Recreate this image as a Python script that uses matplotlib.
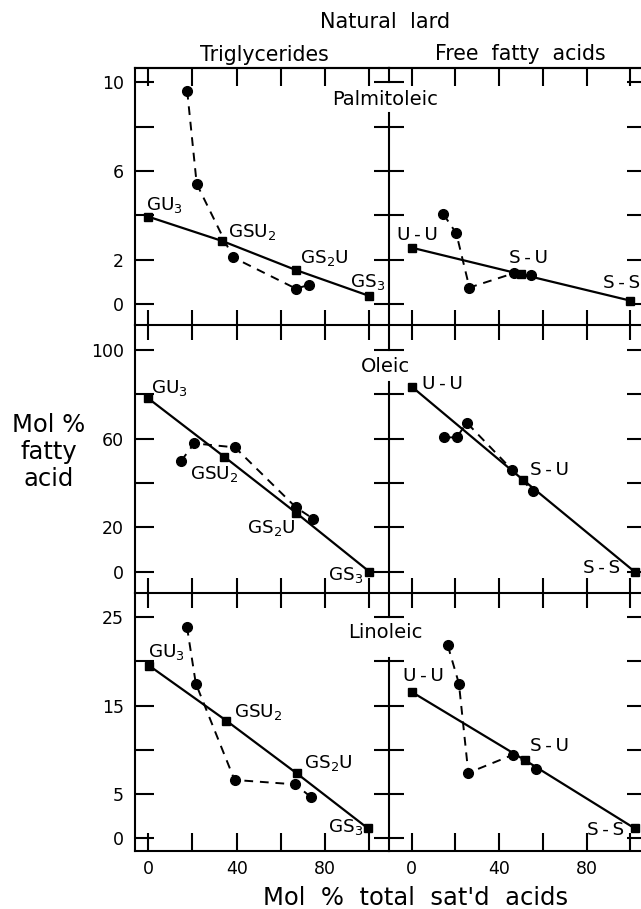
import matplotlib
matplotlib.use('Agg')
import matplotlib.pyplot as plt

plt.rcParams['font.family'] = 'DejaVu Sans'

# ---- data (mol % fatty acid vs mol % total sat'd acids) ----
# Palmitoleic
palm_tg_calc_x = [0, 33.5, 66.8, 100]
palm_tg_calc_y = [3.94, 2.84, 1.53, 0.36]
palm_tg_obs_x = [17.6, 21.9, 38.2, 66.8, 72.6]
palm_tg_obs_y = [9.62, 5.42, 2.11, 0.69, 0.86]
palm_ffa_calc_x = [0, 50, 100]
palm_ffa_calc_y = [2.54, 1.34, 0.15]
palm_ffa_obs_x = [14.5, 20.4, 26.4, 46.8, 54.6]
palm_ffa_obs_y = [4.05, 3.19, 0.74, 1.39, 1.31]

# Oleic
ole_tg_calc_x = [0, 34.3, 66.8, 100]
ole_tg_calc_y = [78.2, 51.9, 26.6, 0]
ole_tg_obs_x = [14.8, 20.8, 39.2, 66.8, 74.7]
ole_tg_obs_y = [49.9, 57.9, 56.1, 29.0, 23.8]
ole_ffa_calc_x = [0, 51, 102]
ole_ffa_calc_y = [83.5, 41.4, 0]
ole_ffa_obs_x = [14.9, 20.6, 25.2, 46.0, 55.4]
ole_ffa_obs_y = [60.6, 60.6, 67.2, 45.9, 36.5]

# Linoleic
lin_tg_calc_x = [0.5, 35.3, 67.1, 99.3]
lin_tg_calc_y = [19.5, 13.3, 7.35, 1.13]
lin_tg_obs_x = [17.5, 21.5, 39.0, 66.4, 73.4]
lin_tg_obs_y = [23.9, 17.5, 6.6, 6.1, 4.7]
lin_ffa_calc_x = [0, 51.9, 102]
lin_ffa_calc_y = [16.55, 8.82, 1.13]
lin_ffa_obs_x = [16.5, 21.6, 25.9, 46.5, 56.7]
lin_ffa_obs_y = [21.8, 17.5, 7.4, 9.46, 7.87]

acids = ['Palmitoleic', 'Oleic', 'Linoleic']
tg_names = ['GU$_3$', 'GSU$_2$', 'GS$_2$U', 'GS$_3$']
ffa_names = ['U\u2009-\u2009U', 'S\u2009-\u2009U', 'S\u2009-\u2009S']

y_ticks = [[0, 2, 4, 6, 8, 10], [0, 20, 40, 60, 80, 100], [0, 5, 10, 15, 20, 25]]
y_labels = [['0', '2', '', '6', '', '10'],
            ['0', '20', '', '60', '', '100'],
            ['0', '5', '', '15', '', '25']]
x_ticks = [0, 20, 40, 60, 80, 100]
x_labels = ['0', '', '40', '', '80', '']

# ---- layout (pixels of the 641x909 canvas) ----
W, H = 641, 909
col_px = [(135, 389.3), (389.3, 646)]
row_px = [(68, 325), (325, 593.3), (593.3, 850.7)]
xlims = [(-6.0, 109.0), (-10.25, 107.2)]
ylims = [(-0.95, 10.65), (-9.74, 111.3), (-1.40, 27.7)]
gaps = [(8.6, 10), (85.7, 100), (20.4, 25)]  # break in the middle divider

# label positions (data coords, left/centre anchored)
tg_pos = [[(-1.0, 4.47), (35.9, 3.26), (68.6, 2.08), (91.3, 1.0)],
          [(1.1, 82.7), (18.9, 44.1), (44.5, 19.6), (81.2, -1.5)],
          [(0, 21.1), (38.7, 14.3), (70.3, 8.5), (81.2, 1.3)]]
ffa_pos = [[(-6.9, 3.12), (44.5, 2.08), (87.4, 0.93)],
           [(4.6, 84.7), (54.1, 45.9), (78.3, 1.5)],
           [(-4.0, 18.3), (54.0, 10.4), (80.0, 0.94)]]
title_y = [99.3, 366.7, 632.7]

panels = [
    [(palm_tg_calc_x, palm_tg_calc_y, palm_tg_obs_x, palm_tg_obs_y),
     (palm_ffa_calc_x, palm_ffa_calc_y, palm_ffa_obs_x, palm_ffa_obs_y)],
    [(ole_tg_calc_x, ole_tg_calc_y, ole_tg_obs_x, ole_tg_obs_y),
     (ole_ffa_calc_x, ole_ffa_calc_y, ole_ffa_obs_x, ole_ffa_obs_y)],
    [(lin_tg_calc_x, lin_tg_calc_y, lin_tg_obs_x, lin_tg_obs_y),
     (lin_ffa_calc_x, lin_ffa_calc_y, lin_ffa_obs_x, lin_ffa_obs_y)],
]

LW = 1.5
fig = plt.figure(figsize=(W / 100, H / 100), dpi=100)

for r in range(3):
    y0, y1 = row_px[r]
    for c in range(2):
        x0, x1 = col_px[c]
        ax = fig.add_axes([x0 / W, 1 - y1 / H, (x1 - x0) / W, (y1 - y0) / H])
        ax.set_xlim(*xlims[c])
        ax.set_ylim(*ylims[r])
        ax.patch.set_alpha(0)

        cx, cy, ox, oy = panels[r][c]
        ax.plot(cx, cy, '-', color='black', lw=1.6, marker='s', ms=6.2,
                zorder=3, clip_on=False)
        ax.plot(ox, oy, linestyle=(0, (4.5, 3.5)), color='black', lw=1.4,
                marker='o', ms=7, zorder=4, clip_on=False)

        names = tg_names if c == 0 else ffa_names
        pos = tg_pos[r] if c == 0 else ffa_pos[r]
        for name, (tx, ty) in zip(names, pos):
            ax.text(tx, ty, name, ha='left', va='center', fontsize=13.2)

        for s in ax.spines.values():
            s.set_visible(False)
            s.set_linewidth(LW)
        ax.spines['bottom'].set_visible(True)
        if c == 0:
            ax.spines['left'].set_visible(True)
        else:
            ax.spines['right'].set_visible(True)
        if r == 0:
            ax.spines['top'].set_visible(True)

        # x ticks
        ax.set_xticks(x_ticks)
        if r == 2:
            ax.set_xticklabels(x_labels)
            ax.tick_params(axis='x', direction='in', length=13, width=LW,
                           labelsize=12.5, pad=7)
        else:
            ax.set_xticklabels([])
            ax.tick_params(axis='x', direction='inout', length=22, width=LW)
        if r == 0:
            top = ax.secondary_xaxis('top')
            top.set_xticks(x_ticks)
            top.set_xticklabels([])
            top.tick_params(direction='in', length=13, width=LW)
            top.spines['top'].set_linewidth(LW)

        # y ticks
        ax.set_yticks(y_ticks[r])
        if c == 0:
            ax.set_yticklabels(y_labels[r])
            ax.tick_params(axis='y', direction='in', length=14, width=LW,
                           labelsize=12.5, pad=8)
            div = ax.secondary_yaxis('right')
            div.set_yticks(y_ticks[r])
            div.set_yticklabels([])
            div.tick_params(direction='inout', length=22, width=LW)
            div.spines['right'].set_visible(False)
            lo, hi = ylims[r]
            g0, g1 = gaps[r]
            ax.axvline(xlims[0][1], 0, (g0 - lo) / (hi - lo), color='black',
                       lw=LW, clip_on=False)
            ax.axvline(xlims[0][1], (g1 - lo) / (hi - lo), 1, color='black',
                       lw=LW, clip_on=False)
        else:
            ax.tick_params(axis='y', left=False, right=True, labelleft=False,
                           direction='in', length=14, width=LW)

    fig.text(385.5 / W, 1 - title_y[r] / H, acids[r], ha='center',
             va='center', fontsize=14)

fig.text(384.7 / W, 1 - 22.3 / H, 'Natural  lard', ha='center', va='center',
         fontsize=15)
fig.text(264 / W, 1 - 55 / H, 'Triglycerides', ha='center', va='center',
         fontsize=14.8)
fig.text(520.8 / W, 1 - 54 / H, 'Free  fatty  acids', ha='center',
         va='center', fontsize=14.8)
fig.text(49 / W, 1 - 452 / H, 'Mol %\nfatty\nacid', ha='center', va='center',
         fontsize=17.5, linespacing=1.15)
fig.text(415.7 / W, 1 - 898.3 / H, "Mol  %  total  sat'd  acids",
         ha='center', va='center', fontsize=17.5)

fig.savefig('out.png', dpi=100)
